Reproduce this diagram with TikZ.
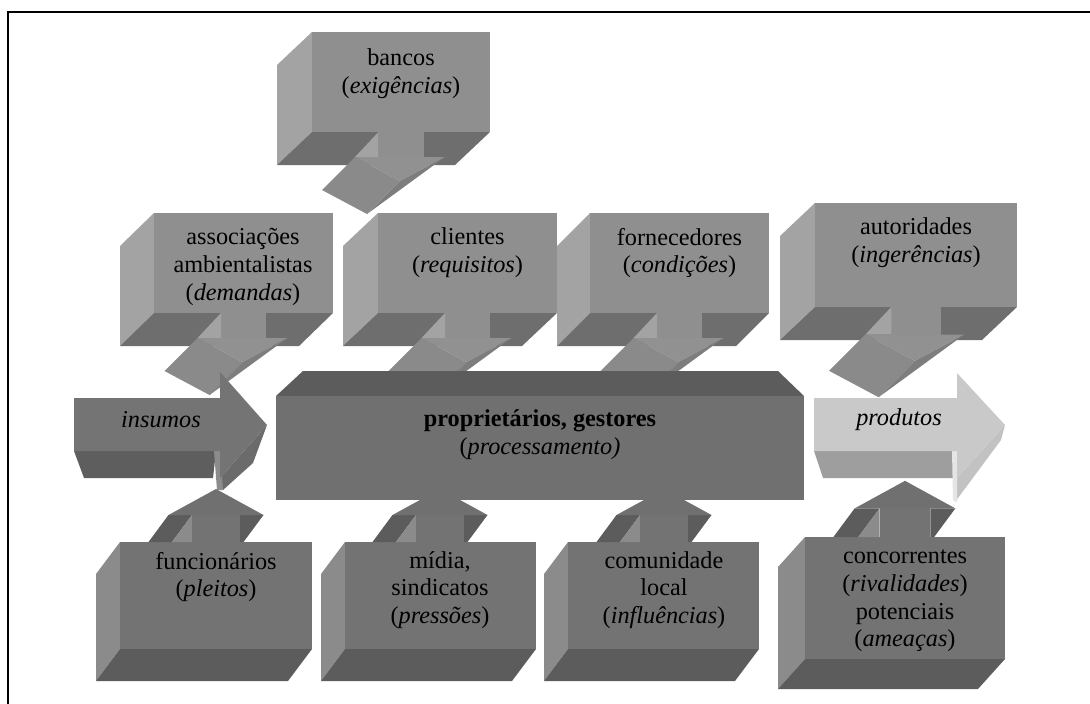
\documentclass[tikz,border=0pt]{standalone}
\usepackage{fontspec}
\setmainfont{Liberation Serif}

% grey shades of the faces
\definecolor{ufront}{gray}{0.56}
\definecolor{ulft}{gray}{0.64}
\definecolor{ubot}{gray}{0.43}
\definecolor{uheadT}{gray}{0.57}
\definecolor{uheadL}{gray}{0.54}
\definecolor{uheadR}{gray}{0.49}
\definecolor{lfront}{gray}{0.45}
\definecolor{llft}{gray}{0.545}
\definecolor{lbot}{gray}{0.36}
\definecolor{lhead}{gray}{0.44}
\definecolor{mfront}{gray}{0.44}
\definecolor{mtop}{gray}{0.36}
\definecolor{ifront}{gray}{0.455}
\definecolor{ibot}{gray}{0.37}
\definecolor{ihead}{gray}{0.42}
\definecolor{istrip}{gray}{0.55}
\definecolor{pfront}{gray}{0.79}
\definecolor{pbot}{gray}{0.62}
\definecolor{phead}{gray}{0.76}
\definecolor{pstrip}{gray}{0.90}

% extruded block: front x0 y0 x1 y1, depth vector ex ey, colour prefix
\newcommand\BlockBox[7]{%
  \fill[#7lft] (#1,#2) -- (#1,#4) -- ({#1+#5},{#4+#6}) -- ({#1+#5},{#2+#6}) -- cycle;
  \fill[#7bot] (#1,#4) -- (#3,#4) -- ({#3+#5},{#4+#6}) -- ({#1+#5},{#4+#6}) -- cycle;
  \fill[#7front] (#1,#2) rectangle (#3,#4);}

% tilted arrow leaving a block downwards: centre x, bottom y, scale
\newcommand\DownShaft[3]{%
  \begin{scope}[shift={(#1,#2)},scale=#3]
    \fill[ufront] (-22.5,0) rectangle (22.5,25);
    \fill[ulft] (-22.5,0) -- (-22.5,25) -- (-46,25) -- cycle;
    \fill[uheadT] (-46,25) -- (44,25) -- (-1,49) -- cycle;
    \fill[uheadL] (-79,58) -- (-46,25) -- (-1,49) -- (-34,82) -- cycle;
    \fill[uheadR] (-1,49) -- (44,25) -- (-34,82) -- cycle;
  \end{scope}}

% arrow leaving a block upwards: centre x, top y, scale
\newcommand\UpShaft[3]{%
  \begin{scope}[shift={(#1,#2)},scale=#3]
    \fill[lbot] (-47.5,-27) -- (-24,-27) -- (-44,0) -- (-67.5,0) -- cycle;
    \fill[lbot] (24,-27) -- (47.5,-27) -- (27.5,0) -- (24,0) -- cycle;
    \fill[llft] (-24,-27) -- (-24,0) -- (-44,0) -- cycle;
    \fill[lfront] (-24,-27) rectangle (24,0);
    \fill[lhead] (-47.5,-27) -- (0,-53) -- (47.5,-27) -- cycle;
  \end{scope}}

\begin{document}
\begin{tikzpicture}[x=0.75pt,y=-0.75pt,
  lbl/.style={align=center,inner sep=0pt,text=black,
    font=\fontsize{18.2}{20.8}\selectfont}]
\useasboundingbox (0,0) rectangle (1090,704);
\fill[white] (0,0) rectangle (1090,704);

% frame
\draw[line width=1.2pt] (8,704) -- (8,12) -- (1090,12);

% upper row of blocks
\BlockBox{154}{213}{333}{313}{-34}{33}{u}
\DownShaft{243.5}{313}{1}
\BlockBox{378}{213}{557}{313}{-35}{33}{u}
\DownShaft{467.5}{313}{1}
\BlockBox{590}{213}{769}{313}{-33}{33}{u}
\DownShaft{679.5}{313}{1}
\BlockBox{815}{203}{1017}{307}{-35}{33}{u}
\DownShaft{916}{307}{1.1}

% top block
\BlockBox{312}{32}{490}{132}{-35}{33}{u}
\DownShaft{401}{132}{1}

% central block
\fill[mtop] (303,371) -- (778,371) -- (804,396) -- (276,396) -- cycle;
\fill[mfront] (276,396) rectangle (804,500);

% input arrow
\fill[ibot] (74,451) -- (216,451) -- (213,478) -- (84,478) -- cycle;
\fill[ihead] (267,425) -- (253,463) -- (223,490) -- (220,478) -- cycle;
\fill[istrip] (214,451) -- (220,451) -- (223,490) -- (217,490) -- cycle;
\fill[ifront] (74,398) -- (220,398) -- (220,372) -- (267,425) -- (220,478)
  -- (220,451) -- (74,451) -- cycle;

% output arrow
\fill[pbot] (814,451) -- (953,451) -- (953,478) -- (823,478) -- cycle;
\fill[phead] (1005,425) -- (1001,440) -- (955,502) -- (957,478) -- cycle;
\fill[pstrip] (952,451) -- (957,451) -- (957,502) -- (953,500) -- cycle;
\fill[pfront] (814,398) -- (957,398) -- (957,373) -- (1005,425) -- (957,478)
  -- (957,451) -- (814,451) -- cycle;

% lower row of blocks
\BlockBox{120}{542}{312}{649}{-24}{32}{l}
\UpShaft{216}{542}{1}
\BlockBox{345}{542}{536}{649}{-24}{32}{l}
\UpShaft{440}{542}{1}
\BlockBox{568}{542}{759}{649}{-24}{32}{l}
\UpShaft{664}{542}{1}
\BlockBox{805}{537}{1005}{659}{-27}{30}{l}
\UpShaft{905}{537}{1.06}

% labels
\node[lbl] (bancos) at (401,74) {bancos\\(\textit{exigências})};
\node[lbl] (assoc) at (243,267) {associações\\ambientalistas\\(\textit{demandas})};
\node[lbl] (clientes) at (467.5,253) {clientes\\(\textit{requisitos})};
\node[lbl] (fornec) at (679.5,253) {fornecedores\\(\textit{condições})};
\node[lbl] (autor) at (916,243) {autoridades\\(\textit{ingerências})};
\node[lbl] (proprio) at (540,435) {\textbf{proprietários, gestores}\\(\textit{processamento)}};
\node[lbl,anchor=base] (insumos) at (161,427) {\textit{insumos}};
\node[lbl,anchor=base] (produtos) at (899,425) {\textit{produtos}};
\node[lbl] (func) at (216,577) {funcionários\\(\textit{pleitos})};
\node[lbl] (midia) at (440,590) {mídia,\\sindicatos\\(\textit{pressões})};
\node[lbl] (comun) at (664,590) {comunidade\\local\\(\textit{influências})};
\node[lbl] (concor) at (905,601) {concorrentes\\(\textit{rivalidades})\\potenciais\\(\textit{ameaças})};
\end{tikzpicture}
\end{document}
